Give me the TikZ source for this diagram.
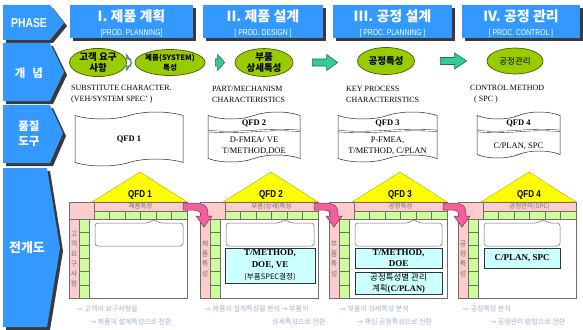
\documentclass[tikz,border=0pt]{standalone}
\usepackage{fontspec}
\setmainfont{Liberation Serif}
\newfontfamily\krfont{Noto Sans CJK KR}
\newfontfamily\narrowfont{Liberation Sans}[FakeStretch=0.8]
\newfontfamily\symfont{DejaVu Sans}
\usetikzlibrary{calc,shapes.geometric,shapes.symbols}
\definecolor{PhaseBlue}{HTML}{3399FF}
\definecolor{ShadowGray}{HTML}{3A3A3A}
\definecolor{LeafGreen}{HTML}{99CC00}
\definecolor{LeafEdge}{HTML}{4D5A00}
\definecolor{ArrowTeal}{HTML}{33CC99}
\definecolor{ArrowEdge}{HTML}{1F6F50}
\definecolor{RoofYellow}{HTML}{FFFF00}
\definecolor{PinkCell}{HTML}{FFCCCC}
\definecolor{CellGreen}{HTML}{CCFF99}
\definecolor{FrameGray}{HTML}{6E6E6E}
\definecolor{ToolCyan}{HTML}{CCFFFF}
\definecolor{FlowPink}{HTML}{F0609A}
\definecolor{FlowEdge}{HTML}{8A2E55}
\definecolor{NoteGray}{HTML}{A0B2CC}
% block arrow between two nodes: tail, tip, head length
\newcommand{\tealarrow}[3]{%
  \draw[ArrowEdge, fill=ArrowTeal, line width=0.6pt] let \p1=#1, \p2=#2 in
    (\x1,{\y1+3.5pt}) -- ({\x2-#3},{\y1+3.5pt}) -- ({\x2-#3},{\y1+8pt}) -- (\x2,\y1)
    -- ({\x2-#3},{\y1-8pt}) -- ({\x2-#3},{\y1-3.5pt}) -- (\x1,{\y1-3.5pt}) -- cycle;}

\begin{document}
\begin{tikzpicture}[x=1pt, y=-1pt,
    phasetitle/.style={text=white, font=\krfont\bfseries\fontsize{14}{14}\selectfont, inner sep=0},
    phasesub/.style={text=white, font=\narrowfont\fontsize{8.5}{9}\selectfont, inner sep=0},
    rowlabel/.style={text=white, font=\krfont\bfseries\fontsize{11.5}{15}\selectfont, align=center, inner sep=0},
    leaf/.style={ellipse, draw=LeafEdge, line width=0.7pt, fill=LeafGreen, inner sep=0, align=center, font=\krfont\bfseries\fontsize{9.5}{11}\selectfont},
    charnote/.style={anchor=west, align=left, inner sep=0, font=\fontsize{8}{11}\selectfont},
    tapebox/.style={tape, draw=black!85, fill=white, line width=0.5pt, tape bend height=7pt, inner sep=0},
    qfdtitle/.style={inner sep=0, font=\bfseries\fontsize{8.5}{10}\selectfont},
    qfdtext/.style={inner sep=0, align=center, font=\fontsize{8.5}{11}\selectfont},
    sepline/.style={draw=black!85, double, double distance=1.1pt, line width=0.4pt},
    cellbox/.style={draw=FrameGray, line width=0.4pt, fill=CellGreen},
    framebox/.style={draw=FrameGray, line width=0.6pt},
    headtext/.style={inner sep=0, text=black!55, font=\krfont\fontsize{6.5}{7}\selectfont},
    sidetext/.style={inner sep=0, text=black!55, align=center, font=\krfont\fontsize{7}{10}\selectfont},
    rooflabel/.style={inner sep=0, font=\narrowfont\bfseries\fontsize{10}{10}\selectfont},
    toolbox/.style={draw=black!80, line width=0.5pt, fill=ToolCyan},
    tooltext/.style={inner sep=0, align=center, font=\bfseries\fontsize{9}{12}\selectfont},
    bottomnote/.style={anchor=west, inner sep=0, text=NoteGray, font=\krfont\fontsize{7}{8}\selectfont}]
  \useasboundingbox (0,0) rectangle (583,329);

  % left row chevrons
  \foreach \ya/\yb/\yc/\xb/\xc in {5/23/40/50/64, 43/72/101/50/64, 105/133/163/50/63, 168/248/327/47/60} {
    \fill[ShadowGray, shift={(3,3)}] (3,\ya) -- (\xb,\ya) -- (\xc,\yb) -- (\xb,\yc) -- (3,\yc) -- cycle;
    \fill[PhaseBlue] (3,\ya) -- (\xb,\ya) -- (\xc,\yb) -- (\xb,\yc) -- (3,\yc) -- cycle;
  }
  \node[text=white, inner sep=0, font=\narrowfont\bfseries\fontsize{13}{13}\selectfont] (r1) at (29,23) {PHASE};
  \node[rowlabel] (r2) at (29,73) {개\hspace{7pt}념};
  \node[rowlabel] (r3) at (29,134) {품질\\도구};
  \node[rowlabel, font=\krfont\bfseries\fontsize{13}{15}\selectfont] (r4) at (27,248) {전개도};

  % phase headers
  \foreach \xa/\xb/\title/\sub [count=\i] in {70/193/{I. 제품 계획}/{[PROD. PLANNING]}, 203/323/{II. 제품 설계}/{[ PROD. DESIGN ]}, 333/452/{III. 공정 설계}/{[ PROC. PLANNING ]}, 462/580/{IV. 공정 관리}/{[ PROC. CONTROL ]}} {
    \fill[ShadowGray, shift={(3,3)}] (\xa,5) rectangle (\xb,38);
    \fill[PhaseBlue] (\xa,5) rectangle (\xb,38);
    \node[phasetitle] (p\i) at ({(\xa+\xb)/2},16) {\title};
    \node[phasesub] (ps\i) at ({(\xa+\xb)/2},33.5) {\sub};
  }

  % concept row
  \node[leaf, minimum width=57pt, minimum height=26pt] (e1) at (98,62.5) {고객 요구\\사항};
  \node[leaf, minimum width=56pt, minimum height=26pt, font=\krfont\bfseries\fontsize{7.5}{9.5}\selectfont] (e2) at (170,62.5) {제품(SYSTEM)\\특성};
  \node[leaf, minimum width=58pt, minimum height=26pt] (e3) at (264,62.5) {부품\\상세특성};
  \node[leaf, minimum width=57pt, minimum height=27pt] (e4) at (386,61) {공정특성};
  \node[leaf, minimum width=56pt, minimum height=26pt, font=\krfont\fontsize{8.5}{10}\selectfont] (e5) at (515,61) {공정관리};
  \tealarrow{($(e1.east)+(4,0)$)}{($(e2.west)+(-3,0)$)}{5pt}
  \tealarrow{($(e2.east)+(10,0)$)}{($(e3.west)+(-10,0)$)}{7pt}
  \tealarrow{($(e3.east)+(19,0)$)}{($(e4.west)+(-19.5,0)$)}{11pt}
  \tealarrow{($(e4.east)+(25.5,0)$)}{($(e5.west)+(-20,0)$)}{12pt}
  \node[charnote] (c1) at (71,94.5) {SUBSTITUTE CHARACTER.\\(VEH/SYSTEM SPEC’ )};
  \node[charnote] (c2) at (212,94.5) {PART/MECHANISM\\CHARACTERISTICS};
  \node[charnote] (c3) at (346,94.5) {KEY PROCESS\\CHARACTERISTICS};
  \node[charnote] (c4) at (470,94.5) {CONTROL METHOD\\\hspace{4pt}( SPC )};

  % quality tools
  \node[tapebox, minimum width=108pt, minimum height=54pt, qfdtitle] (t1) at (129,139) {QFD 1};
  \node[tapebox, minimum width=92pt, minimum height=50pt] (t2) at (254,137) {};
  \node[tapebox, minimum width=99pt, minimum height=50pt] (t3) at (387.5,137) {};
  \node[tapebox, minimum width=83pt, minimum height=46pt] (t4) at (518.5,135) {};
  \foreach \xa/\xb in {208/300, 338/437, 477/560}
    \draw[sepline] (\xa,131) .. controls ({\xa+0.35*(\xb-\xa)},134.5) and ({\xa+0.65*(\xb-\xa)},127.5) .. (\xb,131);
  \node[qfdtitle] (t2a) at (254,123) {QFD 2};
  \node[qfdtext] (t2b) at (254,145.5) {D-FMEA/ VE\\T/METHOD,DOE};
  \node[qfdtitle] (t3a) at (387.5,123) {QFD 3};
  \node[qfdtext] (t3b) at (387.5,146) {P-FMEA,\\T/METHOD, C/PLAN};
  \node[qfdtitle] (t4a) at (518.5,123) {QFD 4};
  \node[qfdtext] (t4b) at (518.5,146) {C/PLAN, SPC};

  % deployment houses
  \foreach \L/\ir/\head/\side [count=\n] in {69/114/제품특성/{고\\객\\요\\구\\사\\항}, 200/114/{부품(상세)특성}/{제\\품\\특\\성}, 329/113/공정특성/{부\\품\\특\\성}, 458/102/{공정관리(SPC)}/{공\\정\\특\\성}} {
    \fill[RoofYellow, draw=RoofYellow!60!black, line width=0.3pt] ({\L+23},202) -- ({\L+71},172) -- ({\L+118},202) -- cycle;
    \node[rooflabel] (q\n) at ({\L+71},195) {QFD \n};
    \draw[framebox, fill=white] (\L,202) rectangle ({\L+118},298);
    \draw[framebox, fill=PinkCell] (\L,202) rectangle ({\L+25},219);
    \draw[framebox, fill=PinkCell] ({\L+25},202) rectangle ({\L+118},211);
    \draw[framebox, fill=PinkCell] (\L,219) rectangle ({\L+10},298);
    \foreach \i in {0,...,5} {
      \draw[cellbox] ({\L+25+\i*15.5},211) rectangle ++(15.5,8);
      \draw[cellbox] ({\L+10},{219+\i*79/6}) rectangle ++(10,{79/6});
    }
    \draw[framebox] (\L,202) rectangle ({\L+118},298);
    \draw[FrameGray, line width=0.5pt, rounded corners=3pt] ({\L+26},223) -- ({\L+80},223) .. controls ({\L+83},220.5) and ({\L+87},220.5) .. ({\L+90},223) -- ({\L+\ir},223) -- ({\L+\ir},246) -- ({\L+26},246) -- cycle;
    \node[headtext] (h\n) at ({\L+71.5},206.5) {\head};
    \node[sidetext] (s\n) at ({\L+5},259) {\side};
  }

  % tool boxes inside houses
  \draw[toolbox] (225,248) rectangle (315,283);
  \node[tooltext] (k2) at (270,265.5) {T/METHOD,\\DOE, VE\\{\krfont\mdseries\fontsize{7.5}{9}\selectfont(부품SPEC결정)}};
  \draw[toolbox] (355,248) rectangle (442,268);
  \node[tooltext, font=\bfseries\fontsize{9}{10.5}\selectfont] (k3a) at (398.5,258) {T/METHOD,\\DOE};
  \draw[toolbox] (355,272) rectangle (442,294);
  \node[tooltext, font=\krfont\fontsize{8.5}{11}\selectfont] (k3b) at (398.5,283) {공정특성별 관리\\계획{\rmfamily\bfseries (C/PLAN)}};
  \draw[toolbox] (484,248) rectangle (560,268);
  \node[tooltext] (k4) at (522,258) {C/PLAN, SPC};

  % pink flow arrows between houses
  \foreach \R/\X in {187/204, 318/334, 447/462}
    \draw[FlowEdge, fill=FlowPink, line width=0.5pt] ({\R-4},203) -- ({\R+2},203) .. controls ({\X+4},203) and ({\X+4},207) .. ({\X+4},216) -- ({\X+8},216) -- (\X,227) -- ({\X-8},216) -- ({\X-3},216) .. controls ({\X-3},212) and ({\X-4},210) .. ({\R+2},210) -- ({\R-4},210) -- cycle;

  % notes under houses
  \node[bottomnote] (b1) at (77,309) {{\symfont ⇨} 고객의 요구사항을};
  \node[bottomnote] (b2) at (90,322) {{\symfont →} 제품의 설계특성으로 전환};
  \node[bottomnote] (b3) at (205,309) {{\symfont ⇨} 제품의 설계특성을 분석 {\symfont →} 부품의};
  \node[bottomnote] (b4) at (272,322) {상세특성으로 전환};
  \node[bottomnote] (b5) at (340,309) {{\symfont ⇨} 부품의 상세특성 분석};
  \node[bottomnote] (b6) at (357,322) {{\symfont →} 핵심 공정특성으로 전환};
  \node[bottomnote] (b7) at (463,309) {{\symfont ⇨} 공정특성 분석};
  \node[bottomnote] (b8) at (490,322) {{\symfont →} 공정관리 방법으로 전환};
\end{tikzpicture}
\end{document}
